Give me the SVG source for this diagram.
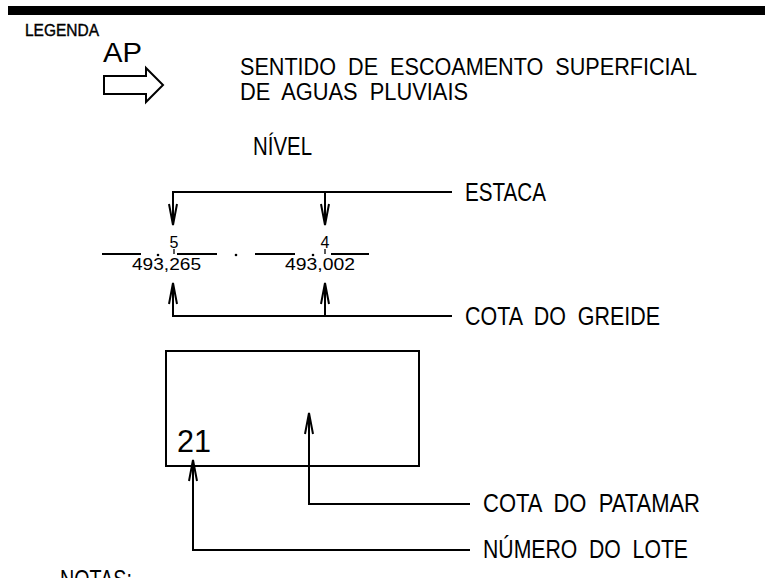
<svg xmlns="http://www.w3.org/2000/svg" width="770" height="578" viewBox="0 0 770 578">
<style>
text{font-family:"Liberation Sans",Arial,sans-serif;fill:#000}
.t{font-size:25px}
.s{font-size:23px}
.n{font-size:16px}
.ln{stroke:#000;stroke-width:2;fill:none}
</style>
<defs>
<marker id="ah" markerUnits="userSpaceOnUse" markerWidth="30" markerHeight="12" refX="0" refY="0" viewBox="-24 -6 26 12" orient="auto" overflow="visible">
<path d="M-21,-4 L0,0 L-21,4" fill="none" stroke="#000" stroke-width="2"/>
</marker>
</defs>
<rect x="8" y="6" width="757" height="9" fill="#000"/>
<g id="legenda">
<text x="25" y="36" font-size="17" textLength="74" lengthAdjust="spacingAndGlyphs" stroke="#000" stroke-width="0.4">LEGENDA</text>
</g>
<g id="ap-arrow">
<text x="103" y="62" font-size="28" textLength="39" lengthAdjust="spacingAndGlyphs">AP</text>
<polygon points="104,76 146,76 146,68 163,85 146,102 146,94 104,94" fill="#fff" stroke="#000" stroke-width="2"/>
</g>
<g id="ap-text">
<text class="s" x="240" y="75" xml:space="preserve" textLength="457" lengthAdjust="spacingAndGlyphs">SENTIDO  DE  ESCOAMENTO  SUPERFICIAL</text>
<text class="s" x="240" y="100" xml:space="preserve" textLength="228" lengthAdjust="spacingAndGlyphs">DE  AGUAS  PLUVIAIS</text>
</g>
<g id="nivel">
<text class="t" x="253" y="155" textLength="59" lengthAdjust="spacingAndGlyphs">NÍVEL</text>
</g>
<g id="estaca-5">
<line class="ln" x1="102" y1="254" x2="141" y2="254"/>
<line class="ln" x1="177" y1="254" x2="217" y2="254"/>
<circle cx="158" cy="255" r="1.3" fill="#000"/>
<line x1="174" y1="249" x2="174" y2="254" stroke="#000" stroke-width="1.3"/>
<text class="n" x="174" y="248" text-anchor="middle">5</text>
<text class="n" x="132" y="270" textLength="69" lengthAdjust="spacingAndGlyphs">493,265</text>
</g>
<circle cx="236" cy="255" r="1.3" fill="#000"/>
<g id="estaca-4">
<line class="ln" x1="255" y1="254" x2="295" y2="254"/>
<line class="ln" x1="331" y1="254" x2="369" y2="254"/>
<circle cx="313" cy="255" r="1.3" fill="#000"/>
<line x1="325" y1="249" x2="325" y2="254" stroke="#000" stroke-width="1.3"/>
<text class="n" x="325" y="248" text-anchor="middle">4</text>
<text class="n" x="285" y="270" textLength="70" lengthAdjust="spacingAndGlyphs">493,002</text>
</g>
<g id="lote">
<rect x="166" y="351" width="253" height="115" fill="none" stroke="#000" stroke-width="2"/>
<text x="177" y="452" font-size="32" textLength="34" lengthAdjust="spacingAndGlyphs">21</text>
</g>
<g id="label-estaca"><text class="t" x="465" y="201" textLength="81" lengthAdjust="spacingAndGlyphs">ESTACA</text></g>
<g id="label-greide"><text class="t" x="465" y="325" xml:space="preserve" textLength="195" lengthAdjust="spacingAndGlyphs">COTA  DO  GREIDE</text></g>
<g id="label-patamar"><text class="t" x="483" y="512" xml:space="preserve" textLength="217" lengthAdjust="spacingAndGlyphs">COTA  DO  PATAMAR</text></g>
<g id="label-lote"><text class="t" x="483" y="558" xml:space="preserve" textLength="205" lengthAdjust="spacingAndGlyphs">NÚMERO  DO  LOTE</text></g>
<g id="notas"><text class="t" x="60" y="588" textLength="72" lengthAdjust="spacingAndGlyphs">NOTAS:</text></g>
<g id="connectors">
<path class="ln" d="M452,192 H173 V225" marker-end="url(#ah)"/>
<path class="ln" d="M325,192 V225" marker-end="url(#ah)"/>
<path class="ln" d="M452,316 H173 V283" marker-end="url(#ah)"/>
<path class="ln" d="M325,316 V283" marker-end="url(#ah)"/>
<path class="ln" d="M470,504 H309 V413" marker-end="url(#ah)"/>
<path class="ln" d="M470,550 H193 V460" marker-end="url(#ah)"/>
</g>
</svg>
